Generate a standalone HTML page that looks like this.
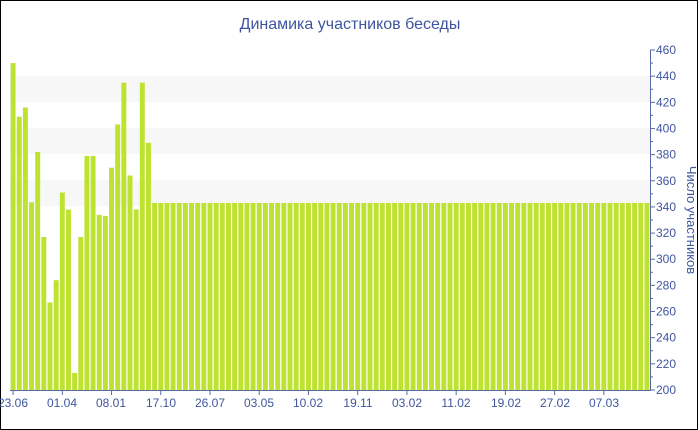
<!DOCTYPE html>
<html><head><meta charset="utf-8"><style>
html,body{margin:0;padding:0;background:#fff}
svg{display:block}
text{font-family:"Liberation Sans","DejaVu Sans",sans-serif;fill:#3f55a0}
</style></head><body>
<svg id="s" width="700" height="430" viewBox="0 0 700 430">
<rect x="0.5" y="0.5" width="697" height="429" fill="#fff" stroke="#000" stroke-width="1"/>
<rect x="10" y="76" width="640" height="26" fill="#f7f7f7"/>
<rect x="10" y="128" width="640" height="26" fill="#f7f7f7"/>
<rect x="10" y="180" width="640" height="26" fill="#f7f7f7"/>
<g id="bars" fill="#bee230"></g>
<text x="350" y="29" font-size="16" text-anchor="middle">Динамика участников беседы</text>
<line x1="650.5" y1="50" x2="650.5" y2="391" stroke="#5a6aa8" stroke-width="1"/>
<line x1="10" y1="390.5" x2="650" y2="390.5" stroke="#5a6aa8" stroke-width="1"/>
<g id="yt" font-size="12"></g>
<g id="xt" font-size="12" text-anchor="middle">
<text x="13" y="407">23.06</text><text x="62" y="407">01.04</text><text x="111" y="407">08.01</text><text x="161" y="407">17.10</text><text x="210" y="407">26.07</text><text x="259" y="407">03.05</text><text x="308" y="407">10.02</text><text x="358" y="407">19.11</text><text x="407" y="407">03.02</text><text x="456" y="407">11.02</text><text x="506" y="407">19.02</text><text x="555" y="407">27.02</text><text x="604" y="407">07.03</text>
</g>
<text transform="translate(687,220) rotate(90)" font-size="13" text-anchor="middle">Число участников</text>
</svg>
<script>
var v=[450,409,416,343.5,382,317,267,284,351,338,213,317,379,379,334,333,370,403,435,364,338,435,389];
while(v.length<104)v.push(343);
var ns="http://www.w3.org/2000/svg",b=document.getElementById('bars'),p=640/104;
v.forEach(function(d,i){var r=document.createElementNS(ns,'rect');var y=390-(d-200)*340/260;
r.setAttribute('x',(10+i*p+0.6).toFixed(2));r.setAttribute('width',(p-1.2).toFixed(2));
r.setAttribute('y',y.toFixed(1));r.setAttribute('height',(390-y).toFixed(1));b.appendChild(r);});
var yt=document.getElementById('yt');
for(var k=200;k<=460;k+=10){var y=390-(k-200)*340/260;var l=document.createElementNS(ns,'line');
l.setAttribute('x1',650);l.setAttribute('x2',k%20?653:655);l.setAttribute('y1',y);l.setAttribute('y2',y);l.setAttribute('stroke','#5a6aa8');yt.appendChild(l);
if(k%20==0){var t=document.createElementNS(ns,'text');t.setAttribute('x',656);t.setAttribute('y',y+4);t.textContent=k;yt.appendChild(t);}}
var xt=document.getElementById('xt');
for(var i=0;i<104;i+=8){var x=10+(i+0.5)*p;var l=document.createElementNS(ns,'line');l.setAttribute('x1',x);l.setAttribute('x2',x);l.setAttribute('y1',390);l.setAttribute('y2',395);l.setAttribute('stroke','#5a6aa8');xt.appendChild(l);}
</script>
</body></html>
